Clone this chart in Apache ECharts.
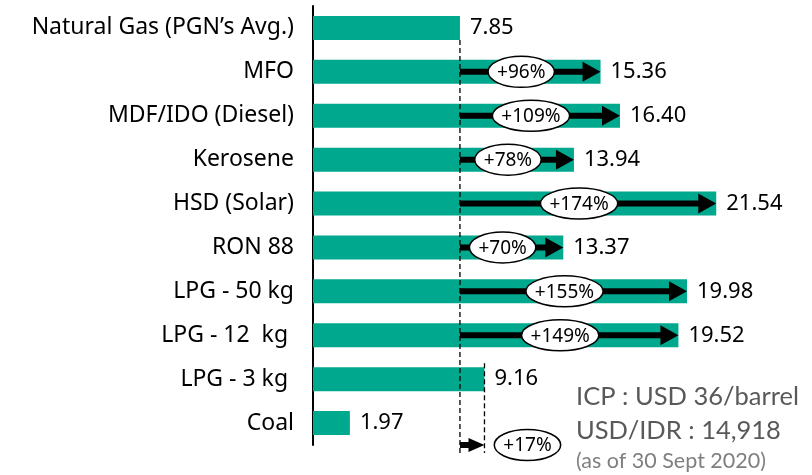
<!DOCTYPE html>
<html>
<head>
<meta charset="utf-8">
<script src="https://cdn.jsdelivr.net/npm/echarts@6/dist/echarts.min.js"></script>
<style>
  html, body { margin: 0; padding: 0; background: #ffffff; }
  #chart { width: 812px; height: 475px; }
</style>
</head>
<body>
<div id="chart"></div>
<script>
// Fuel prices (USD/MMBTU), top to bottom
const categories = [
  'Natural Gas (PGN’s Avg.)', 'MFO', 'MDF/IDO (Diesel)', 'Kerosene', 'HSD (Solar)',
  'RON 88', 'LPG - 50 kg', 'LPG - 12  kg ', 'LPG - 3 kg ', 'Coal'
];
const prices = [7.85, 15.36, 16.40, 13.94, 21.54, 13.37, 19.98, 19.52, 9.16, 1.97];

// Reference fuel and the fuels compared against it with arrows
const baseCategory = 'Natural Gas (PGN’s Avg.)';
const arrowCategories = ['MFO', 'MDF/IDO (Diesel)', 'Kerosene', 'HSD (Solar)', 'RON 88', 'LPG - 50 kg', 'LPG - 12  kg '];
const belowAxisCategory = 'LPG - 3 kg ';

// Footnote lines
const notes = ['ICP : USD 36/barrel', 'USD/IDR : 14,918', '(as of 30 Sept 2020)'];

const FONT = '"Noto Sans", "Open Sans", sans-serif';
const NOTE_FONT = 'Lato, "Noto Sans", sans-serif';
const TEAL = '#00a88e';
const PCT_SIZE = 19;

const basePrice = prices[categories.indexOf(baseCategory)];
const priceOf = c => prices[categories.indexOf(c)];
const pctLabel = v => '+' + Math.round((v / basePrice - 1) * 100) + '%';

const measureCtx = document.createElement('canvas').getContext('2d');
function textWidth(t, size) {
  measureCtx.font = size + 'px ' + FONT;
  return measureCtx.measureText(t).width;
}

function ellipseLabel(cx, cy, text) {
  const rx = (textWidth(text, PCT_SIZE) + 18) / 2;
  return [
    { type: 'ellipse', shape: { cx: cx, cy: cy, rx: rx, ry: 15.5 },
      style: { fill: '#ffffff', stroke: '#000000', lineWidth: 1.5 } },
    { type: 'text', x: cx, y: cy + 1,
      style: { text: text, fill: '#000000', font: PCT_SIZE + 'px ' + FONT, align: 'center', verticalAlign: 'middle' } }
  ];
}

function arrowShape(x0, x1, y, headLen, headHalf, shaftW) {
  const sx = x1 - headLen;
  return [
    { type: 'rect', shape: { x: x0, y: y - shaftW / 2, width: Math.max(0, sx - x0 + 1), height: shaftW },
      style: { fill: '#000000' } },
    { type: 'polygon', shape: { points: [[sx, y - headHalf], [x1, y], [sx, y + headHalf]] },
      style: { fill: '#000000' } }
  ];
}

const chart = echarts.init(document.getElementById('chart'), null, { renderer: 'canvas' });

chart.setOption({
  animation: false,
  backgroundColor: '#ffffff',
  grid: { left: 313, right: 31, top: 6, bottom: 30, containLabel: false },
  xAxis: {
    type: 'value', min: 0, max: 25,
    show: false
  },
  yAxis: {
    type: 'category', data: categories, inverse: true,
    axisLine: { show: true, lineStyle: { color: '#000000', width: 2 } },
    axisTick: { show: false },
    axisLabel: { color: '#000000', fontSize: 23, fontFamily: FONT, margin: 19 }
  },
  series: [
    {
      type: 'bar',
      data: prices,
      barWidth: 24,
      itemStyle: { color: TEAL },
      label: {
        show: true, position: 'right', distance: 10,
        color: '#000000', fontSize: 22, fontFamily: FONT,
        formatter: p => p.value.toFixed(2)
      },
      z: 2
    },
    {
      // Dashed guides at the reference price and at LPG 3 kg price
      type: 'custom',
      data: [[basePrice, baseCategory, 0], [priceOf(belowAxisCategory), belowAxisCategory, 1]],
      renderItem: (params, api) => {
        const p = api.coord([api.value(0), api.value(1)]);
        const band = api.size([0, 1])[1];
        const bottom = api.coord([0, categories[categories.length - 1]])[1] + band / 2 + 8;
        const top = api.value(2) === 0 ? p[1] + 12 : p[1] - 16;
        return {
          type: 'line',
          shape: { x1: p[0], y1: top, x2: p[0], y2: bottom },
          style: { stroke: '#000000', lineWidth: 1.3, lineDash: [5, 3] }
        };
      },
      z: 3
    },
    {
      // Increase arrows from the reference price to each fuel's price
      type: 'custom',
      data: arrowCategories.map(c => [basePrice, priceOf(c), c]),
      renderItem: (params, api) => {
        const s = api.coord([api.value(0), api.value(2)]);
        const e = api.coord([api.value(1), api.value(2)]);
        const headLen = 18;
        const children = arrowShape(s[0], e[0], s[1], headLen, 10, 6);
        const cx = (s[0] + e[0] - headLen) / 2;
        return { type: 'group', children: children.concat(ellipseLabel(cx, s[1], pctLabel(api.value(1)))) };
      },
      z: 4
    },
    {
      // Small arrow under the axis for LPG 3 kg
      type: 'custom',
      data: [[basePrice, priceOf(belowAxisCategory)]],
      renderItem: (params, api) => {
        const last = categories[categories.length - 1];
        const band = api.size([0, 1])[1];
        const s = api.coord([api.value(0), last]);
        const e = api.coord([api.value(1), last]);
        const y = s[1] + band / 2;
        const children = arrowShape(s[0], e[0], y, 16, 7, 6);
        return { type: 'group', children: children.concat(ellipseLabel(e[0] + 43, y, pctLabel(api.value(1)))) };
      },
      z: 4
    }
  ],
  graphic: [
    { type: 'text', left: 576, top: 384,
      style: { text: notes[0], fill: '#595959', font: '25.5px ' + NOTE_FONT } },
    { type: 'text', left: 576, top: 418,
      style: { text: notes[1], fill: '#595959', font: '25.5px ' + NOTE_FONT } },
    { type: 'text', left: 576, top: 450,
      style: { text: notes[2], fill: '#7f7f7f', font: '21.5px ' + NOTE_FONT } }
  ]
});
</script>
</body>
</html>
